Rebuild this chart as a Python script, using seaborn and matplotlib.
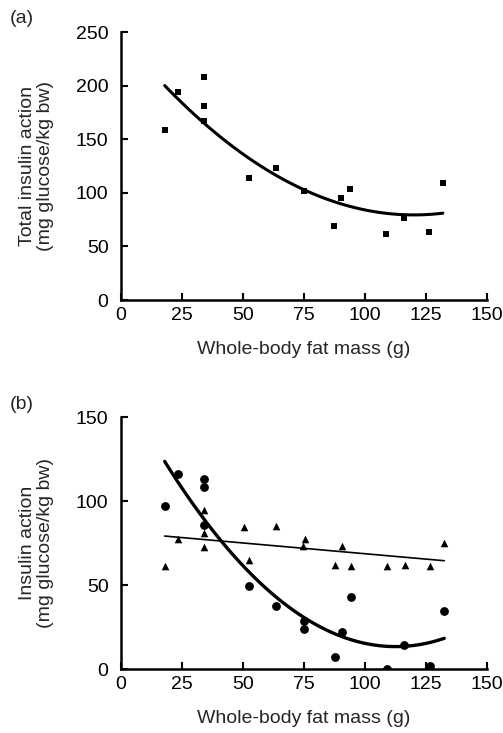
import matplotlib
matplotlib.use("Agg")
import matplotlib.pyplot as plt
import seaborn as sns
import numpy as np

sns.set_theme(style="ticks")
plt.rcParams['font.family'] = ['Liberation Sans', 'DejaVu Sans']

# Panel (a): total insulin action
fat_a = [17.9, 23.5, 34.0, 34.0, 34.0, 52.4, 63.4, 74.9, 87.3, 90.3, 93.8, 108.7, 115.8, 126.3, 131.9]
total_a = [158.6, 193.7, 207.7, 180.7, 167.0, 114.1, 122.8, 101.4, 69.0, 94.8, 103.5, 61.9, 76.2, 63.4, 109.5]

# Panel (b): circles (quadratic fit) and triangles (linear fit)
fat_circ = [17.9, 23.5, 34.0, 34.0, 34.0, 52.4, 63.4, 74.9, 74.9, 87.5, 90.7, 94.2, 109.2, 116.0, 126.7, 132.5]
ins_circ = [97.3, 116.2, 113.2, 108.6, 85.5, 49.5, 37.8, 28.6, 24.1, 7.0, 22.1, 42.6, 0.2, 14.3, 1.8, 34.6]
fat_tri = [17.9, 23.5, 34.0, 34.0, 34.0, 50.4, 52.4, 63.5, 75.3, 74.7, 87.5, 90.7, 94.2, 109.2, 116.3, 126.7, 132.5]
ins_tri = [61.5, 77.6, 94.7, 81.2, 72.4, 84.5, 64.7, 85.1, 77.4, 73.2, 62.1, 73.4, 61.1, 61.5, 62.1, 61.1, 74.8]

xticks = [0, 25, 50, 75, 100, 125, 150]
yticks_a = [0, 50, 100, 150, 200, 250]
yticks_b = [0, 50, 100, 150]

fig = plt.figure(figsize=(5.03, 7.33), dpi=100)
ax1 = fig.add_axes([0.2406, 0.5907, 0.7276, 0.3656])
ax2 = fig.add_axes([0.2406, 0.0873, 0.7276, 0.3438])

fs = 14

sns.regplot(x=fat_a, y=total_a, order=2, ci=None, ax=ax1, marker='s',
            scatter_kws=dict(s=18, color='black', linewidths=0, alpha=1),
            line_kws=dict(color='black', lw=2.2))

sns.regplot(x=fat_circ, y=ins_circ, order=2, ci=None, ax=ax2, marker='o',
            scatter_kws=dict(s=40, color='black', linewidths=0, alpha=1),
            line_kws=dict(color='black', lw=2.4))
sns.regplot(x=fat_tri, y=ins_tri, order=1, ci=None, ax=ax2, marker='^',
            scatter_kws=dict(s=30, color='black', linewidths=0, alpha=1),
            line_kws=dict(color='black', lw=1.2))

for ax, yt, ylab in [(ax1, yticks_a, "Total insulin action\n(mg glucose/kg bw)"),
                     (ax2, yticks_b, "Insulin action\n(mg glucose/kg bw)")]:
    ax.set_xlim(0, 150)
    ax.set_ylim(0, yt[-1])
    ax.set_xticks(xticks)
    ax.set_yticks(yt)
    ax.tick_params(direction='in', length=5, width=1.5, labelsize=fs, colors='black')
    ax.tick_params(axis='x', pad=5)
    ax.tick_params(axis='y', pad=9)
    for s in ['top', 'right']:
        ax.spines[s].set_visible(False)
    for s in ['left', 'bottom']:
        ax.spines[s].set_linewidth(1.8)
        ax.spines[s].set_color('black')
    ax.set_xlabel("Whole-body fat mass (g)", fontsize=fs, labelpad=12)
    ax.set_ylabel(ylab, fontsize=fs, labelpad=16, linespacing=1.05)
    ax.set_facecolor('white')

fig.text(0.02, 0.975, "(a)", fontsize=fs, ha='left', va='center')
fig.text(0.02, 0.448, "(b)", fontsize=fs, ha='left', va='center')

fig.savefig("out.png", dpi=100, facecolor='white')
